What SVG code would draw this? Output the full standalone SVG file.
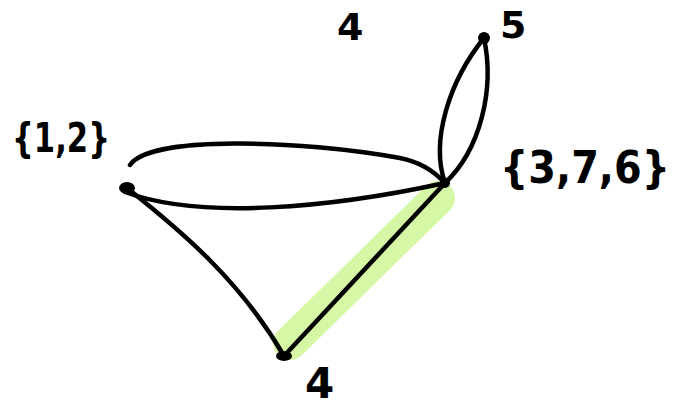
<svg xmlns="http://www.w3.org/2000/svg" width="687" height="408" viewBox="0 0 687 408">
<style>
.e{fill:none;stroke:#000;stroke-width:4.5;stroke-linecap:round;stroke-linejoin:round}
.n{fill:#000}
.t{font-family:"DejaVu Sans",sans-serif;font-weight:bold;fill:#000}
</style>
<rect width="687" height="408" fill="#fff"/>
<path d="M290,343 L438,198" stroke="#d6f7a6" stroke-width="34" stroke-linecap="round" fill="none"/>
<g id="connectors">
<path class="e" d="M130,165 C150,135 300,140 400,158 C420,162 435,172 445,183"/>
<path class="e" d="M125,192 C200,220 330,208 445,183"/>
<path class="e" d="M445,183 C430,140 450,80 484,38"/>
<path class="e" d="M445,183 C480,150 495,90 484,38"/>
<path class="e" d="M127,188 C180,230 240,280 284,356"/>
<path class="e" d="M445,183 L284,356"/>
</g>
<g id="n12"><ellipse class="n" cx="127" cy="188" rx="8" ry="6"/><text class="t" x="12" y="152" font-size="40" textLength="98" lengthAdjust="spacingAndGlyphs">{1,2}</text></g>
<g id="n376"><circle class="n" cx="445" cy="183" r="5"/><text class="t" x="500" y="183" font-size="44" textLength="170" lengthAdjust="spacingAndGlyphs">{3,7,6}</text></g>
<g id="n5"><circle class="n" cx="484" cy="38" r="6"/><text class="t" x="500" y="38" font-size="38">5</text></g>
<g id="n4"><ellipse class="n" cx="284" cy="356" rx="8" ry="5"/><text class="t" x="305" y="398" font-size="42">4</text></g>
<text class="t" x="337" y="40" font-size="38">4</text>
</svg>
